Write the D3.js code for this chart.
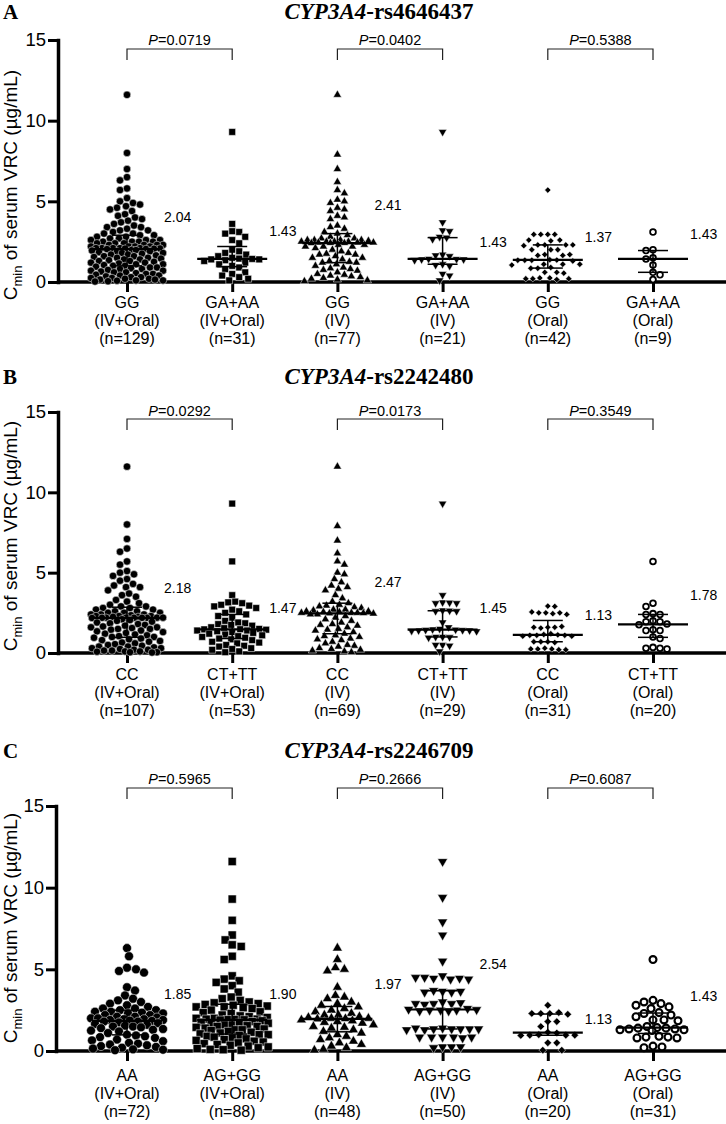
<!DOCTYPE html>
<html lang="en">
<head>
<meta charset="UTF-8">
<title>CYP3A4 genotype vs VRC Cmin</title>
<script src="https://d3js.org/d3.v7.min.js"></script>
<style>
  body { margin: 0; background: #fff; }
  svg { display: block; }
  text { fill: #000; }
  .sans { font-family: "Liberation Sans", Arial, sans-serif; }
  .serif { font-family: "Liberation Serif", "Times New Roman", serif; }
</style>
</head>
<body>
<div id="chart"></div>
<script>
// ---------- data ----------
var routes = ["(IV+Oral)", "(IV+Oral)", "(IV)", "(IV)", "(Oral)", "(Oral)"];
var yTicks = [0, 5, 10, 15];

// panel A: rs4646437
var snpA = "rs4646437";
var genoA = ["GG", "GA+AA", "GG", "GA+AA", "GG", "GA+AA"];
var nA = [129, 31, 77, 21, 42, 9];
var medianA = [2.04, 1.43, 2.41, 1.43, 1.37, 1.43];
var pA = ["0.0719", "0.0402", "0.5388"];
var a_GG_all = [11.6, 8.0, 7.0, 6.5, 6.3, 5.8, 5.7, 5.2, 5.0, 4.9, 4.8, 4.7, 4.6, 4.5, 4.4, 4.2, 4.1, 4.0, 3.9, 3.8,
  3.7, 3.6, 3.5, 3.4, 3.4, 3.3, 3.2, 3.2, 3.1, 3.0, 3.0, 2.9, 2.9, 2.8, 2.8, 2.7, 2.7, 2.6, 2.6, 2.6,
  2.5, 2.5, 2.5, 2.5, 2.4, 2.4, 2.4, 2.3, 2.3, 2.3, 2.3, 2.2, 2.2, 2.2, 2.2, 2.1, 2.1, 2.1, 2.1, 2.1,
  2.08, 2.07, 2.06, 2.05, 2.04,
  2.0, 1.98, 1.95, 1.9, 1.9, 1.85, 1.8, 1.8, 1.75, 1.7, 1.7, 1.65, 1.6, 1.6, 1.55, 1.5, 1.5, 1.45, 1.4, 1.4,
  1.35, 1.3, 1.3, 1.25, 1.2, 1.2, 1.15, 1.1, 1.1, 1.05, 1.0, 1.0, 0.95, 0.9, 0.9, 0.85, 0.8, 0.8, 0.75, 0.7,
  0.7, 0.65, 0.6, 0.6, 0.55, 0.5, 0.5, 0.45, 0.4, 0.4, 0.35, 0.3, 0.3, 0.25, 0.25, 0.2, 0.2, 0.15, 0.15, 0.1,
  0.1, 0.08, 0.05, 0.03];
var a_GA_all = [9.3, 3.6, 3.15, 3.1, 3.0, 2.8, 2.6, 2.4, 2.0, 1.9, 1.8, 1.7, 1.6, 1.5, 1.45, 1.43, 1.4, 1.4,
  1.35, 1.3, 1.2, 1.1, 1.0, 0.9, 0.8, 0.6, 0.5, 0.4, 0.3, 0.2, 0.1];
var a_GG_iv = [11.6, 7.9, 7.0, 6.2, 5.7, 5.5, 5.1, 5.0, 4.9, 4.6, 4.5, 4.4, 4.1, 4.0, 3.9, 3.5, 3.4, 3.3, 3.1, 3.0,
  2.9, 2.8, 2.7, 2.7, 2.6, 2.6, 2.6, 2.6, 2.55, 2.5, 2.5, 2.5, 2.5, 2.45, 2.45, 2.45, 2.42, 2.42, 2.41,
  2.3, 2.3, 2.2, 2.2, 2.2, 2.1, 2.0, 1.9, 1.8, 1.75, 1.7, 1.7, 1.6, 1.5, 1.5, 1.4, 1.3, 1.25, 1.2, 1.2,
  1.1, 1.0, 0.9, 0.85, 0.8, 0.75, 0.7, 0.6, 0.5, 0.45, 0.4, 0.35, 0.3, 0.25, 0.2, 0.15, 0.1, 0.05];
var a_GA_iv = [9.3, 3.7, 3.2, 3.15, 2.8, 2.75, 2.65, 1.7, 1.65, 1.6, 1.43, 1.42, 1.4, 1.4, 1.35, 1.1, 1.05, 1.0,
  0.5, 0.4, 0.1];
var a_GG_oral = [5.7, 2.95, 2.95, 2.95, 2.95, 2.6, 2.6, 2.55, 2.3, 2.3, 2.3, 2.25, 2.3, 2.0, 2.0, 2.0, 1.7, 1.65,
  1.65, 1.7, 1.38, 1.36, 1.35, 1.35, 1.3, 1.35, 1.1, 1.1, 1.1, 1.05, 0.9, 0.85, 0.85, 0.6, 0.6, 0.55, 0.25,
  0.25, 0.2, 0.2, 0.2, 0.15];
var a_GA_oral = [3.1, 2.0, 1.95, 1.5, 1.43, 1.05, 0.6, 0.45, 0.15];

// panel B: rs2242480
var snpB = "rs2242480";
var genoB = ["CC", "CT+TT", "CC", "CT+TT", "CC", "CT+TT"];
var nB = [107, 53, 69, 29, 31, 20];
var medianB = [2.18, 1.47, 2.47, 1.45, 1.13, 1.78];
var pB = ["0.0292", "0.0173", "0.3549"];
var b_CC_all = [11.6, 8.0, 7.1, 6.5, 6.3, 5.7, 5.5, 5.1, 5.0, 4.9, 4.8, 4.6, 4.5, 4.3, 4.2, 4.1, 4.1, 3.9, 3.7, 3.6,
  3.5, 3.3, 3.2, 3.1, 3.0, 2.9, 2.9, 2.8, 2.8, 2.7, 2.7, 2.6, 2.6, 2.5, 2.5, 2.5, 2.4, 2.4, 2.4, 2.35,
  2.3, 2.3, 2.3, 2.25, 2.25, 2.2, 2.2, 2.2, 2.2, 2.19, 2.19, 2.19, 2.19, 2.18,
  2.1, 2.05, 2.0, 1.95, 1.9, 1.85, 1.8, 1.75, 1.7, 1.65, 1.6, 1.6, 1.55, 1.5, 1.5, 1.45, 1.4, 1.35, 1.3, 1.25,
  1.2, 1.15, 1.1, 1.05, 1.0, 1.0, 0.95, 0.9, 0.85, 0.8, 0.75, 0.7, 0.65, 0.6, 0.55, 0.5, 0.45, 0.4, 0.4, 0.35,
  0.3, 0.3, 0.25, 0.2, 0.2, 0.15, 0.15, 0.1, 0.1, 0.08, 0.05, 0.05, 0.03];
var b_CT_all = [9.3, 5.7, 3.6, 3.2, 3.15, 3.1, 3.0, 2.95, 2.9, 2.8, 2.7, 2.6, 2.5, 2.4, 2.3, 2.2, 2.0, 1.9, 1.85,
  1.8, 1.75, 1.7, 1.6, 1.55, 1.5, 1.48, 1.47,
  1.45, 1.4, 1.4, 1.35, 1.3, 1.25, 1.2, 1.15, 1.1, 1.05, 1.0, 0.95, 0.9, 0.85, 0.8, 0.7, 0.65, 0.6, 0.5, 0.45,
  0.4, 0.3, 0.25, 0.2, 0.1, 0.05];
var b_CC_iv = [11.6, 7.9, 7.0, 6.2, 5.7, 5.5, 5.0, 4.9, 4.6, 4.4, 4.2, 4.1, 4.0, 3.9, 3.6, 3.4, 3.2, 3.1, 3.0, 2.95,
  2.9, 2.85, 2.8, 2.7, 2.7, 2.65, 2.6, 2.6, 2.55, 2.55, 2.5, 2.5, 2.5, 2.48, 2.47,
  2.45, 2.4, 2.4, 2.3, 2.2, 2.1, 2.0, 1.9, 1.8, 1.75, 1.7, 1.6, 1.5, 1.45, 1.4, 1.3, 1.2, 1.1, 1.05, 1.0,
  0.9, 0.85, 0.8, 0.7, 0.6, 0.5, 0.45, 0.4, 0.3, 0.25, 0.2, 0.15, 0.1, 0.05];
var b_CT_iv = [9.3, 3.6, 3.15, 3.13, 3.1, 3.1, 2.65, 2.63, 2.6, 2.6, 1.9, 1.6, 1.5, 1.47, 1.45,
  1.43, 1.42, 1.4, 1.4, 1.38, 1.35, 1.0, 1.0, 0.98, 0.95, 0.5, 0.5, 0.45, 0.1];
var b_CC_oral = [2.92, 2.9, 2.5, 2.5, 2.45, 2.5, 2.55, 2.4, 1.6, 1.6, 1.55, 1.65, 1.6, 1.2, 1.15, 1.13,
  1.1, 1.1, 1.1, 1.05, 1.05, 0.7, 0.7, 0.65, 0.7, 0.3, 0.25, 0.25, 0.2, 0.25, 0.2];
var b_CT_oral = [5.7, 3.1, 2.9, 2.45, 2.4, 2.4, 2.0, 1.95, 1.95, 1.8, 1.76, 1.45, 1.4, 1.4, 1.0, 0.9, 0.35, 0.3,
  0.3, 0.25];

// panel C: rs2246709
var snpC = "rs2246709";
var genoC = ["AA", "AG+GG", "AA", "AG+GG", "AA", "AG+GG"];
var nC = [72, 88, 48, 50, 20, 31];
var medianC = [1.85, 1.90, 1.97, 2.54, 1.13, 1.43];
var pC = ["0.5965", "0.2666", "0.6087"];
var c_AA_all = [6.3, 5.8, 5.1, 5.0, 4.9, 4.8, 3.9, 3.7, 3.4, 3.2, 3.1, 3.0, 2.9, 2.8, 2.7, 2.6, 2.6, 2.5, 2.5, 2.4,
  2.4, 2.35, 2.3, 2.3, 2.2, 2.2, 2.1, 2.1, 2.05, 2.0, 2.0, 1.95, 1.95, 1.9, 1.9, 1.86,
  1.84, 1.8, 1.8, 1.75, 1.7, 1.65, 1.6, 1.55, 1.5, 1.5, 1.45, 1.4, 1.35, 1.3, 1.25, 1.2, 1.1, 1.0, 0.95, 0.9,
  0.85, 0.8, 0.7, 0.65, 0.6, 0.5, 0.45, 0.4, 0.35, 0.3, 0.25, 0.2, 0.15, 0.1, 0.08, 0.05];
var c_AG_all = [11.6, 9.3, 8.0, 7.1, 6.8, 6.5, 6.4, 5.8, 5.6, 4.6, 4.4, 4.3, 4.2, 4.0, 3.8, 3.6, 3.3, 3.2, 3.1, 3.0,
  2.95, 2.9, 2.85, 2.8, 2.75, 2.7, 2.7, 2.65, 2.6, 2.5, 2.4, 2.35, 2.3, 2.2, 2.15, 2.1, 2.05, 2.0, 2.0, 1.95,
  1.95, 1.93, 1.92, 1.91,
  1.89, 1.85, 1.8, 1.75, 1.7, 1.7, 1.65, 1.6, 1.6, 1.55, 1.5, 1.5, 1.45, 1.4, 1.35, 1.3, 1.3, 1.25, 1.2, 1.15,
  1.1, 1.05, 1.0, 1.0, 0.95, 0.9, 0.85, 0.8, 0.75, 0.7, 0.65, 0.6, 0.55, 0.5, 0.45, 0.4, 0.35, 0.3, 0.25, 0.2,
  0.15, 0.1, 0.08, 0.05];
var c_AA_iv = [6.3, 5.6, 5.1, 5.0, 4.9, 3.9, 3.4, 3.3, 3.2, 3.0, 2.9, 2.8, 2.7, 2.6, 2.5, 2.4, 2.3, 2.2, 2.2, 2.1,
  2.05, 2.0, 2.0, 1.98, 1.96, 1.9, 1.85, 1.8, 1.75, 1.7, 1.6, 1.5, 1.45, 1.4, 1.3, 1.2, 1.1, 1.0, 0.9, 0.8,
  0.7, 0.6, 0.5, 0.4, 0.3, 0.2, 0.1, 0.05];
var c_AG_iv = [11.6, 9.4, 7.9, 7.1, 5.5, 4.6, 4.45, 4.4, 4.45, 4.5, 4.4, 4.5, 3.65, 3.6, 3.7, 3.65, 3.6, 3.0, 2.9,
  2.9, 2.85, 2.95, 2.9, 2.6, 2.55, 2.53, 2.5, 2.5, 2.5, 2.45, 2.45, 1.4, 1.35, 1.35, 1.3, 1.35, 1.4, 1.35, 1.3,
  1.35, 0.85, 0.85, 0.85, 0.8, 0.85, 0.85, 0.25, 0.25, 0.2, 0.25];
var c_AA_oral = [2.8, 2.3, 2.3, 2.35, 2.3, 2.25, 1.8, 1.8, 1.5, 1.15, 1.1, 1.0, 0.97, 0.97, 0.95, 0.97, 0.5, 0.5,
  0.05, 0.05];
var c_AG_oral = [5.6, 3.1, 3.0, 2.9, 2.8, 2.7, 2.6, 2.35, 2.3, 2.2, 2.1, 1.9, 1.9, 1.85, 1.5, 1.43,
  1.4, 1.4, 1.35, 1.35, 1.3, 1.3, 1.25, 0.9, 0.85, 0.85, 0.8, 0.8, 0.3, 0.25, 0.2];

// ---------- layout ----------
var width = 726, height = 1124;
var panels = [
  { letter: "A", snp: snpA, geno: genoA, n: nA, med: medianA, p: pA,
    groups: [a_GG_all, a_GA_all, a_GG_iv, a_GA_iv, a_GG_oral, a_GA_oral],
    titleY: 19, top: 40, zero: 282, axisX: 58, pY: 45, brY: 49, brY2: 60, catY: 308, yLabC: 185, ms: 1,
    labLift: [4.03, 3.16, 4.77, 2.48, 2.79, 2.98] },
  { letter: "B", snp: snpB, geno: genoB, n: nB, med: medianB, p: pB,
    groups: [b_CC_all, b_CT_all, b_CC_iv, b_CT_iv, b_CC_oral, b_CT_oral],
    titleY: 384, top: 412, zero: 653, axisX: 58, pY: 416, brY: 419, brY2: 430, catY: 680, yLabC: 536, ms: 1,
    labLift: [4.04, 2.80, 4.42, 2.80, 2.36, 3.61] },
  { letter: "C", snp: snpC, geno: genoC, n: nC, med: medianC, p: pC,
    groups: [c_AA_all, c_AG_all, c_AA_iv, c_AG_iv, c_AA_oral, c_AG_oral],
    titleY: 758, top: 806, zero: 1051, axisX: 56, pY: 784, brY: 788, brY2: 799, catY: 1081, yLabC: 928, ms: 1.2,
    labLift: [3.49, 3.49, 4.10, 5.33, 1.96, 3.37] }
];

var svg = d3.select("#chart").append("svg")
  .attr("width", width).attr("height", height)
  .attr("viewBox", [0, 0, width, height]);

// marker shapes per group: circle, square, triangle up, triangle down, diamond, open circle
var shapeKinds = ["circle", "square", "tri", "triDown", "diamond", "open"];

function markerPath(kind, s) {
  if (kind === "circle") return d3.symbol(d3.symbolCircle, 44 * s * s)();
  if (kind === "square") return d3.symbol(d3.symbolSquare, 46 * s * s)();
  if (kind === "tri" || kind === "triDown") return d3.symbol(d3.symbolTriangle, 30 * s * s)();
  if (kind === "diamond") return d3.symbol(d3.symbolSquare, 20 * s * s)();
  return d3.symbol(d3.symbolCircle, 26 * s * s)();
}
function markerRot(kind) {
  if (kind === "triDown") return 180;
  if (kind === "diamond") return 45;
  return 0;
}

// simple beeswarm: nearest free horizontal slot, else the least crowded one
function swarm(vals, y, half, sep) {
  var placed = [];
  vals.forEach(function(v, i) {
    var py = y(v), best = 0, bestD = -1, done = false;
    for (var k = 0; k <= half && !done; k++) {
      var cands = k === 0 ? [0] : (i % 2 ? [k, -k] : [-k, k]);
      for (var j = 0; j < cands.length; j++) {
        var c = cands[j], minD = Infinity;
        placed.forEach(function(p) {
          var d = Math.hypot(p.dx - c, p.y - py);
          if (d < minD) minD = d;
        });
        if (minD >= sep) { best = c; done = true; break; }
        if (minD > bestD) { bestD = minD; best = c; }
      }
    }
    placed.push({ v: v, dx: best, y: py });
  });
  return placed;
}

panels.forEach(function(P) {
  var g = svg.append("g");
  var y = d3.scaleLinear().domain([0, 15]).range([P.zero, P.top]);
  var x = d3.scalePoint().domain(d3.range(6)).range([127, 653]);

  // panel letter and title
  g.append("text").attr("class", "serif").attr("x", 3).attr("y", P.titleY)
    .style("font-size", "21px").style("font-weight", "bold").text(P.letter);
  var t = g.append("text").attr("class", "serif").attr("x", 379).attr("y", P.titleY)
    .attr("text-anchor", "middle").style("font-size", "23px").style("font-weight", "bold");
  t.append("tspan").style("font-style", "italic").text("CYP3A4");
  t.append("tspan").text("-" + P.snp);

  // y axis
  var ya = g.append("g").attr("transform", "translate(" + P.axisX + ",0)")
    .call(d3.axisLeft(y).tickValues(yTicks).tickSize(10).tickSizeOuter(0).tickPadding(2));
  ya.select(".domain").attr("stroke-width", 3.5).attr("stroke-linecap", "square");
  ya.selectAll(".tick line").attr("stroke-width", 3);
  ya.selectAll(".tick text").attr("class", "sans").style("font-size", "18.5px").attr("fill", "#000");

  // y axis title
  var yl = g.append("text").attr("class", "sans")
    .attr("transform", "translate(17," + P.yLabC + ") rotate(-90)")
    .attr("text-anchor", "middle").style("font-size", "19px");
  yl.append("tspan").text("C");
  yl.append("tspan").attr("dy", 5).style("font-size", "13px").text("min");
  yl.append("tspan").attr("dy", -5).text(" of serum VRC (\u00b5g/mL)");

  // x axis line and ticks
  g.append("line").attr("x1", P.axisX).attr("x2", width).attr("y1", P.zero).attr("y2", P.zero)
    .attr("stroke", "#000").attr("stroke-width", 3.5);
  var xa = g.append("g").attr("transform", "translate(0," + P.zero + ")")
    .call(d3.axisBottom(x).tickSize(10).tickFormat(""));
  xa.select(".domain").remove();
  xa.selectAll(".tick line").attr("stroke-width", 3);

  // category labels
  d3.range(6).forEach(function(i) {
    var lab = g.append("text").attr("class", "sans").attr("text-anchor", "middle")
      .style("font-size", "16px");
    [P.geno[i], routes[i], "(n=" + P.n[i] + ")"].forEach(function(s, k) {
      lab.append("tspan").attr("x", x(i)).attr("y", P.catY + k * 18).text(s);
    });
  });

  // points
  d3.range(6).forEach(function(i) {
    var kind = shapeKinds[i];
    var pts = swarm(P.groups[i], y, 36, 7 * P.ms);
    var path = markerPath(kind, P.ms);
    g.append("g").selectAll("path").data(pts).join("path")
      .attr("d", path)
      .attr("transform", function(d) {
        return "translate(" + (x(i) + d.dx) + "," + d.y + ") rotate(" + markerRot(kind) + ")";
      })
      .attr("fill", kind === "open" ? "#fff" : "#000")
      .attr("stroke", kind === "open" ? "#000" : "#fff")
      .attr("stroke-width", kind === "open" ? 1.8 * P.ms : 0.5);

    // median with interquartile range
    var sorted = P.groups[i].slice().sort(d3.ascending);
    var q1 = d3.quantile(sorted, 0.25), q3 = d3.quantile(sorted, 0.75);
    var cx = x(i);
    g.append("line").attr("x1", cx).attr("x2", cx).attr("y1", y(q1)).attr("y2", y(q3))
      .attr("stroke", "#000").attr("stroke-width", 1.5);
    [q1, q3].forEach(function(q) {
      g.append("line").attr("x1", cx - 15).attr("x2", cx + 15).attr("y1", y(q)).attr("y2", y(q))
        .attr("stroke", "#000").attr("stroke-width", 1.5);
    });
    g.append("line").attr("x1", cx - 35).attr("x2", cx + 35).attr("y1", y(P.med[i])).attr("y2", y(P.med[i]))
      .attr("stroke", "#000").attr("stroke-width", 2.2);

    // median value label
    g.append("text").attr("class", "sans").attr("x", cx + 37).attr("y", y(P.labLift[i]) + 5)
      .style("font-size", "14px").text(P.med[i].toFixed(2));
  });

  // comparison brackets
  P.p.forEach(function(pv, k) {
    var x1 = x(2 * k), x2 = x(2 * k + 1);
    g.append("path")
      .attr("d", "M" + x1 + "," + P.brY2 + "V" + P.brY + "H" + x2 + "V" + P.brY2)
      .attr("fill", "none").attr("stroke", "#222").attr("stroke-width", 1.2);
    var pt = g.append("text").attr("class", "sans").attr("x", (x1 + x2) / 2).attr("y", P.pY)
      .attr("text-anchor", "middle").style("font-size", "14.5px");
    pt.append("tspan").style("font-style", "italic").text("P");
    pt.append("tspan").text("=" + pv);
  });
});
</script>
</body>
</html>
